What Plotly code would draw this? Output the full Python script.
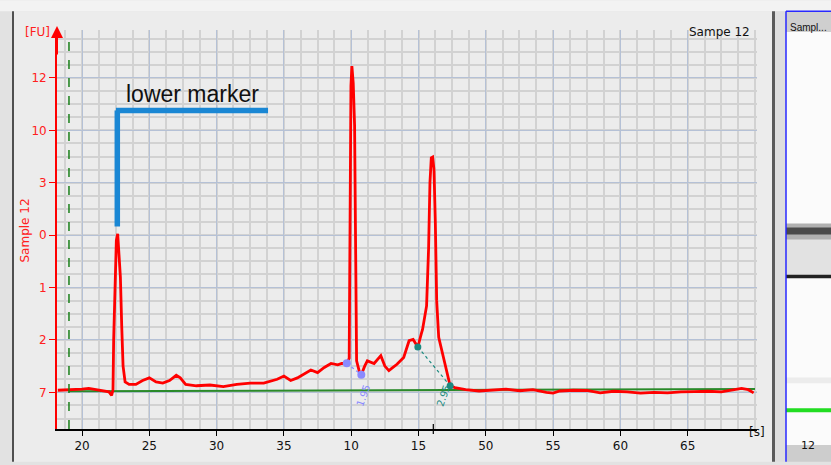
import plotly.graph_objects as go

# ---------------- data ----------------
time_s = [18.2, 19.0, 20.0, 20.5, 21.0, 21.5, 22.0, 22.2, 22.3, 22.35, 22.45, 22.55, 22.65, 22.75,
          22.85, 22.95, 23.05, 23.2, 23.5, 24.0, 24.5, 25.0, 25.5, 26.0, 26.5, 27.0, 27.3, 27.7,
          28.5, 29.5, 30.5, 31.5, 32.5, 33.5, 34.5, 35.0, 35.5, 36.0, 36.5, 37.0, 37.5, 38.0,
          38.5, 39.0, 39.3, 39.67, 39.85, 39.92, 39.98, 40.05, 40.15, 40.25, 40.32, 40.4, 40.6,
          40.75, 41.0, 41.2, 41.7, 42.2, 42.5, 42.8, 43.1, 43.4, 43.9, 44.3, 44.6, 44.95, 45.2,
          45.3, 45.6, 45.75, 45.85, 45.95, 46.05, 46.15, 46.25, 46.35, 46.5, 46.8, 47.1, 47.35,
          47.7, 48.5, 49.5, 50.5, 51.5, 52.5, 53.5, 54.5, 55.0, 55.5, 56.5, 57.5, 58.5, 59.5,
          60.5, 61.5, 62.5, 63.5, 64.5, 65.5, 66.5, 67.5, 68.5, 69.0, 69.5, 69.9]
fluor = [0.08, 0.09, 0.12, 0.15, 0.10, 0.05, 0.02, -0.12, 0.1, 2.0, 4.2, 5.8, 6.05, 5.4,
         4.4, 2.5, 1.0, 0.4, 0.3, 0.3, 0.45, 0.55, 0.4, 0.35, 0.45, 0.65, 0.55, 0.3,
         0.25, 0.28, 0.22, 0.3, 0.35, 0.35, 0.5, 0.62, 0.45, 0.55, 0.7, 0.85, 0.75, 0.95,
         1.1, 1.05, 1.1, 1.11, 1.3, 6.0, 11.7, 12.45, 11.8, 10.2, 5.0, 1.2, 0.8,
         0.67, 1.0, 1.2, 1.1, 1.4, 1.0, 0.83, 0.95, 1.07, 1.33, 1.97, 2.02, 1.73, 2.22,
         2.4, 3.3, 5.5, 8.0, 8.95, 8.98, 8.5, 6.5, 3.5, 2.1, 1.45, 0.7, 0.25,
         0.18, 0.1, 0.05, 0.08, 0.12, 0.06, 0.1, 0.0, -0.03, 0.05, 0.08, 0.07, -0.02, 0.04,
         0.02, -0.03, 0.0, -0.02, 0.02, 0.03, 0.04, 0.02, 0.1, 0.15, 0.1, -0.02]

baseline_x = [19.0, 70.0]
baseline_y = [0.04, 0.13]

peak1_x = [39.67, 40.75]
peak1_y = [1.11, 0.67]
peak2_x = [44.95, 47.35]
peak2_y = [1.73, 0.25]
peak_labels = ["1.95", "2.95"]
peak_label_x = [40.9, 46.85]

lower_marker_x = 22.62
lower_marker_top = 10.76
lower_marker_bottom = 6.33
lower_marker_right = 33.82
start_marker_x = 19.03

x_tickvals = [20, 25, 30, 35, 40, 45, 50, 55, 60, 65]
x_ticktext = ["20", "25", "30", "35", "10", "15", "50", "55", "60", "65"]
y_tickvals = [0, 2, 4, 6, 8, 10, 12]
y_ticktext = ["7", "2", "1", "0", "3", "10", "12"]

FONT = "DejaVu Sans"

# pixel -> paper helpers (plot area: x 57..757, y 30..432)
def xp(px):
    return (px - 57) / 700.0

def yp(py):
    return (432 - py) / 402.0

fig = go.Figure()

fig.add_trace(go.Scatter(x=baseline_x, y=baseline_y, mode="lines",
                         line=dict(color="#2a8a2a", width=2), hoverinfo="skip"))
fig.add_trace(go.Scatter(x=time_s, y=fluor, mode="lines",
                         line=dict(color="#ff0000", width=2.8), hoverinfo="skip"))
fig.add_trace(go.Scatter(x=peak1_x, y=peak1_y, mode="lines+markers",
                         line=dict(color="#8a8aff", width=1.2, dash="dot"),
                         marker=dict(color="#8a8aff", size=8, symbol="circle")))
fig.add_trace(go.Scatter(x=peak2_x, y=peak2_y, mode="lines+markers",
                         line=dict(color="#1b8a80", width=1.2, dash="dot"),
                         marker=dict(color="#1b8a80", size=7, symbol="circle")))

shapes = []
# outer panel
shapes.append(dict(type="rect", xref="paper", yref="paper", x0=xp(0), x1=xp(831), y0=yp(0), y1=yp(11),
                   fillcolor="#f3f3f3", line=dict(width=0), layer="below"))
shapes.append(dict(type="rect", xref="paper", yref="paper", x0=xp(12), x1=xp(772), y0=yp(465), y1=yp(11),
                   fillcolor="#ececec", line=dict(width=0), layer="below"))
shapes.append(dict(type="line", xref="paper", yref="paper", x0=xp(13), x1=xp(13), y0=yp(465), y1=yp(11),
                   line=dict(color="#505050", width=2)))
shapes.append(dict(type="rect", xref="paper", yref="paper", x0=xp(772), x1=xp(775), y0=yp(465), y1=yp(11),
                   fillcolor="#5a5a5a", line=dict(width=0)))
shapes.append(dict(type="rect", xref="paper", yref="paper", x0=xp(775), x1=xp(786), y0=yp(465), y1=yp(11),
                   fillcolor="#dedede", line=dict(width=0)))
# gel lane
shapes.append(dict(type="rect", xref="paper", yref="paper", x0=xp(786), x1=xp(831), y0=yp(448), y1=yp(32),
                   fillcolor="#fbfbfb", line=dict(width=0)))
shapes.append(dict(type="rect", xref="paper", yref="paper", x0=xp(786), x1=xp(831), y0=yp(32), y1=yp(11),
                   fillcolor="#cfcfcf", line=dict(width=0)))
shapes.append(dict(type="rect", xref="paper", yref="paper", x0=xp(786), x1=xp(831), y0=yp(465), y1=yp(448),
                   fillcolor="#cdcdcd", line=dict(width=0)))
shapes.append(dict(type="rect", xref="paper", yref="paper", x0=xp(786), x1=xp(831), y0=yp(278), y1=yp(236),
                   fillcolor="#e2e2e2", line=dict(width=0)))
shapes.append(dict(type="rect", xref="paper", yref="paper", x0=xp(786), x1=xp(831), y0=yp(241), y1=yp(225),
                   fillcolor="#b0b0b0", line=dict(width=0)))
shapes.append(dict(type="rect", xref="paper", yref="paper", x0=xp(786), x1=xp(831), y0=yp(236), y1=yp(229),
                   fillcolor="#4a4a4a", line=dict(width=0)))
shapes.append(dict(type="rect", xref="paper", yref="paper", x0=xp(786), x1=xp(831), y0=yp(280), y1=yp(276.5),
                   fillcolor="#222222", line=dict(width=0)))
shapes.append(dict(type="rect", xref="paper", yref="paper", x0=xp(786), x1=xp(831), y0=yp(386), y1=yp(380),
                   fillcolor="#ececec", line=dict(width=0)))
shapes.append(dict(type="rect", xref="paper", yref="paper", x0=xp(786), x1=xp(831), y0=yp(415), y1=yp(411),
                   fillcolor="#22dd22", line=dict(width=0)))
shapes.append(dict(type="line", xref="paper", yref="paper", x0=xp(786), x1=xp(786), y0=yp(465), y1=yp(11),
                   line=dict(color="#2828ff", width=1.5)))
shapes.append(dict(type="line", xref="paper", yref="paper", x0=xp(786), x1=xp(831), y0=yp(11), y1=yp(11),
                   line=dict(color="#2828ff", width=1.5)))
# start marker (green dashed)
shapes.append(dict(type="line", xref="x", yref="paper", x0=start_marker_x, x1=start_marker_x, y0=0, y1=yp(35),
                   line=dict(color="#1a801a", width=1.5, dash="dash")))
# extra x tick
shapes.append(dict(type="line", xref="x", yref="paper", x0=46.1, x1=46.1, y0=yp(437), y1=yp(427),
                   line=dict(color="#000000", width=1.2)))
# lower marker L
shapes.append(dict(type="line", xref="x", yref="y", x0=lower_marker_x, x1=lower_marker_x,
                   y0=lower_marker_bottom, y1=lower_marker_top, line=dict(color="#1a87d4", width=5.5)))
shapes.append(dict(type="line", xref="x", yref="y", x0=lower_marker_x - 0.1, x1=lower_marker_right,
                   y0=lower_marker_top, y1=lower_marker_top, line=dict(color="#1a87d4", width=5.5)))

annotations = []
annotations.append(dict(x=(lower_marker_x + lower_marker_right) / 2, y=lower_marker_top + 0.62,
                        xref="x", yref="y", text="lower marker", showarrow=False, xanchor="center",
                        font=dict(family="Liberation Sans", size=23, color="#111111")))
for lx, lt, col in zip(peak_label_x, peak_labels, ["#8a8aff", "#1b8a80"]):
    annotations.append(dict(x=lx, y=yp(413), xref="x", yref="paper", text=lt, showarrow=False,
                            xanchor="center", textangle=-70, font=dict(family=FONT, size=10, color=col)))
# y-axis arrow
annotations.append(dict(x=0, y=yp(26), xref="paper", yref="paper", ax=0, ay=30, axref="pixel", ayref="pixel",
                        text="", showarrow=True, arrowhead=2, arrowsize=1.2, arrowwidth=2, arrowcolor="#ff0000"))
annotations.append(dict(x=xp(37), y=yp(23), xref="paper", yref="paper", text="[FU]", showarrow=False,
                        xanchor="center", font=dict(family=FONT, size=12, color="#ff2020")))
annotations.append(dict(x=xp(25), y=yp(232), xref="paper", yref="paper", text="Sample 12", showarrow=False,
                        xanchor="center", textangle=-90, font=dict(family=FONT, size=12, color="#ff2020")))
annotations.append(dict(x=xp(757), y=yp(444), xref="paper", yref="paper", text="[s]", showarrow=False,
                        xanchor="center", font=dict(family=FONT, size=12, color="#111111")))
annotations.append(dict(x=xp(752), y=yp(23), xref="paper", yref="paper", text="Sampe 12", showarrow=False,
                        xanchor="right", font=dict(family=FONT, size=12, color="#111111")))
annotations.append(dict(x=xp(788), y=yp(20), xref="paper", yref="paper", text="Sampl...", showarrow=False,
                        xanchor="left", font=dict(family="Liberation Sans", size=10, color="#111111")))
annotations.append(dict(x=xp(808), y=yp(457), xref="paper", yref="paper", text="12", showarrow=False,
                        xanchor="center", font=dict(family=FONT, size=11, color="#111111")))

fig.update_layout(
    width=831, height=465,
    margin=dict(l=57, r=74, t=30, b=33),
    paper_bgcolor="#e2e2e2",
    plot_bgcolor="#ebebeb",
    showlegend=False,
    shapes=shapes,
    annotations=annotations,
    xaxis=dict(range=[18.14, 70.15], tickmode="array", tickvals=x_tickvals, ticktext=x_ticktext,
               showgrid=True, gridcolor="#b5c1d6", gridwidth=1.3,
               minor=dict(dtick=1.25, tick0=20, showgrid=True, gridcolor="#d2d2d2", gridwidth=1.5),
               showline=True, linecolor="#000000", linewidth=1.5, ticks="outside", ticklen=5,
               tickcolor="#000000", zeroline=False,
               tickfont=dict(family=FONT, size=12, color="#111111")),
    yaxis=dict(range=[-1.40, 13.83], tickmode="array", tickvals=y_tickvals, ticktext=y_ticktext,
               showgrid=True, gridcolor="#b5c1d6", gridwidth=1.3,
               minor=dict(dtick=0.5, tick0=0, showgrid=True, gridcolor="#d2d2d2", gridwidth=1.5),
               showline=True, linecolor="#ff0000", linewidth=1.8, ticks="outside", ticklen=6,
               tickcolor="#ff0000", zeroline=False,
               tickfont=dict(family=FONT, size=12, color="#ff2020")),
)

fig.write_html("out.html", config={"displayModeBar": False},
               post_script="document.body.style.margin='0px';document.body.style.padding='0px';"
                           "document.body.style.overflow='hidden';")
